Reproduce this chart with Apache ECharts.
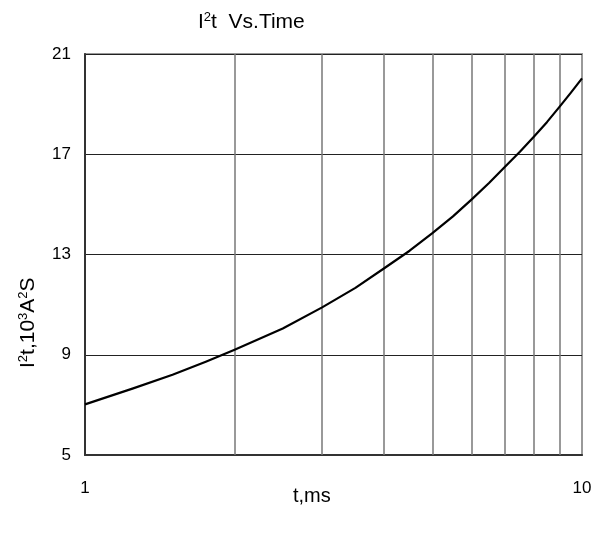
<!DOCTYPE html>
<html>
<head>
<meta charset="utf-8">
<script src="https://cdn.jsdelivr.net/npm/echarts@6/dist/echarts.min.js"></script>
<style>
html,body{margin:0;padding:0;background:#fff;}
#c{width:606px;height:533px;}
</style>
</head>
<body>
<div id="c"></div>
<script>
// t (ms) and I²t (10^3 A²s)
const timeMs = [1, 1.25, 1.5, 1.75, 2, 2.5, 3, 3.5, 4, 4.5, 5, 5.5, 6, 6.5, 7, 7.5, 8, 8.5, 9, 9.5, 10];
const i2tValues = [7.02, 7.66, 8.2, 8.72, 9.2, 10.05, 10.89, 11.67, 12.45, 13.15, 13.85, 14.52, 15.2, 15.85, 16.5, 17.1, 17.7, 18.28, 18.88, 19.46, 20.03];
const minorGridT = [2, 3, 4, 5, 6, 7, 8, 9];
const yTicks = [5, 9, 13, 17, 21];
const xTickLabels = [1, 10];

const FONT = '"Liberation Sans", Arial, sans-serif';
const chart = echarts.init(document.getElementById('c'));
chart.setOption({
  animation: false,
  backgroundColor: '#fff',
  grid: {left: 85, right: 24, top: 54, bottom: 78, show: true, borderColor: '#999', borderWidth: 2, backgroundColor: 'transparent'},
  graphic: [
    {type: 'text', left: 198, top: 11, style: {
      text: '{m|I}{s|2}{m|t  Vs.Time}', fill: '#000',
      rich: {m: {fontSize: 21, fontFamily: FONT, fill:'#000'}, s: {fontSize: 13, fontFamily: FONT, fill:'#000', padding:[0,0,10,0]}}
    }},
    {type: 'text', x: 17, y: 368, rotation: Math.PI/2, style: {
      text: '{m|I}{s|2}{m|t,10}{s|3}{m|A}{s|2}{m|S}', fill: '#000',
      rich: {m: {fontSize: 21, fontFamily: FONT, fill:'#000'}, s: {fontSize: 13, fontFamily: FONT, fill:'#000', padding:[0,0,10,0]}}
    }},
    {type: 'text', left: 293, top: 486, style: {text: 't,ms', fontSize: 20, fontFamily: FONT, fill: '#000'}}
  ],
  xAxis: {
    type: 'log', logBase: 10, min: 1, max: 10,
    axisLine: {show: true, lineStyle: {color: '#333', width: 2}},
    axisTick: {show: false},
    splitLine: {show: false},
    minorTick: {show: false},
    axisLabel: {
      fontSize: 17, fontFamily: FONT, color: '#000', margin: 25,
      formatter: v => xTickLabels.includes(Math.round(v)) ? String(Math.round(v)) : ''
    }
  },
  yAxis: {
    type: 'value', min: yTicks[0], max: yTicks[yTicks.length-1], interval: 4,
    axisLine: {show: true, lineStyle: {color: '#333', width: 2}},
    axisTick: {show: false},
    splitLine: {show: true, lineStyle: {color: '#222', width: 1}},
    axisLabel: {fontSize: 17, fontFamily: FONT, color: '#000', margin: 14}
  },
  series: [{
    type: 'line',
    data: timeMs.map((t, i) => [t, i2tValues[i]]),
    smooth: false,
    symbol: 'none',
    lineStyle: {color: '#000', width: 2.2, join: 'round'},
    markLine: {
      silent: true, symbol: ['none', 'none'], label: {show: false},
      lineStyle: {color: '#777', width: 1.5, type: 'solid'},
      data: minorGridT.map(t => ({xAxis: t}))
    },
    z: 5
  }]
});
</script>
</body>
</html>
